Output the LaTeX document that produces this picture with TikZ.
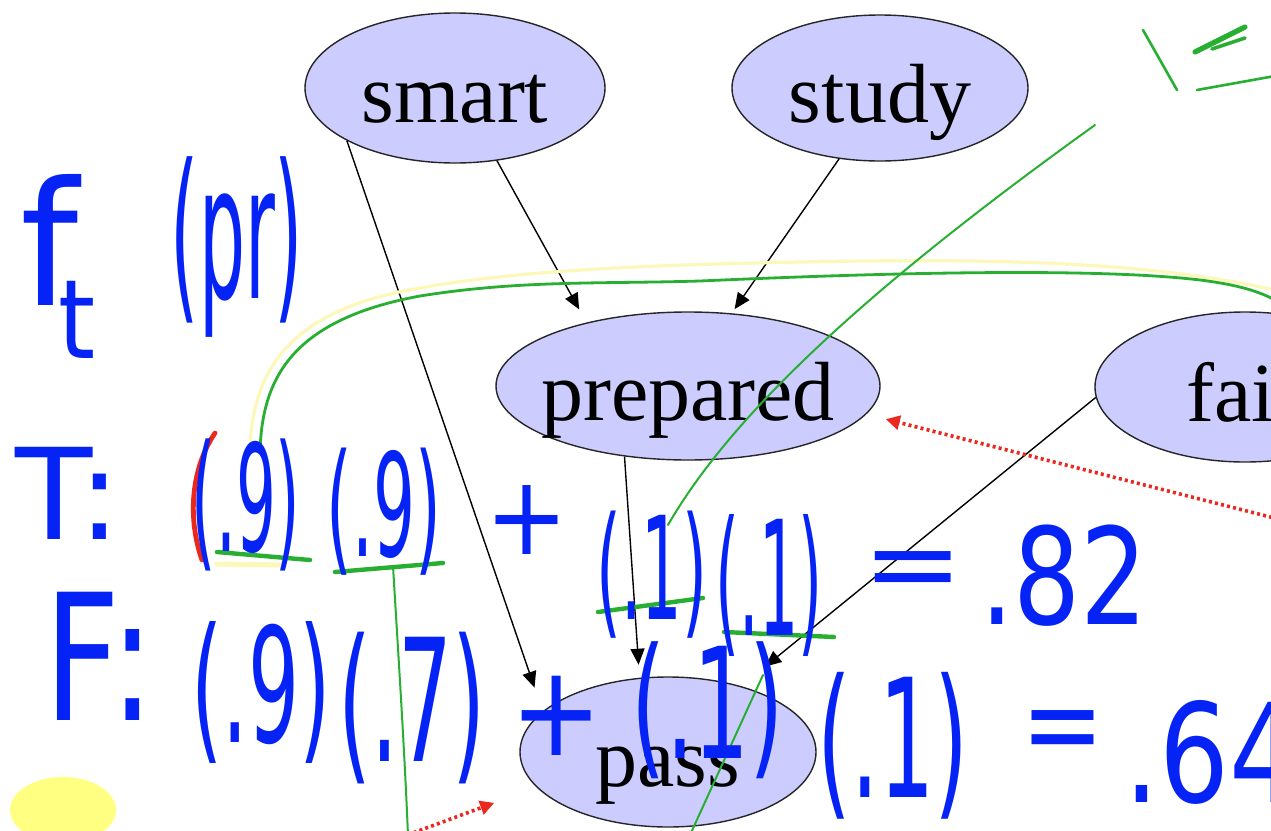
\documentclass[tikz,border=0pt]{standalone}
\usepackage{fontspec}
\setmainfont{Liberation Serif}
\newfontfamily\handf{DejaVu Sans}
\usetikzlibrary{shapes.geometric,arrows.meta}
\definecolor{nodefill}{RGB}{204,204,255}
\definecolor{inkblue}{RGB}{5,35,245}
\definecolor{inkgreen}{RGB}{40,175,50}
\definecolor{inkred}{RGB}{235,40,30}
\definecolor{inkyellow}{RGB}{252,248,185}
\definecolor{blobyellow}{RGB}{255,255,130}
\newcommand{\hwr}[4]{\scalebox{#1}[#2]{\fontsize{#3}{#3}\selectfont #4}}
\tikzset{
  bnode/.style={ellipse, draw=black!85, line width=0.7pt, fill=nodefill,
    inner xsep=-20pt, inner ysep=-5pt, text height=39pt, text depth=5pt,
    font=\fontsize{42}{42}\selectfont, text=black},
  bnarrow/.style={draw=black, line width=0.7pt, -{Triangle[length=8pt,width=7pt]}},
  reddot/.style={draw=inkred, line width=1.8pt, dash pattern=on 1.5pt off 1.6pt,
    -{Triangle[length=7pt,width=7pt]}},
  hw/.style={text=inkblue, font=\handf, inner sep=0pt, anchor=center},
  gstroke/.style={draw=inkgreen, line width=1.2pt, line cap=round},
  gunder/.style={draw=inkgreen, line width=2.2pt, line cap=round},
}
\begin{document}
\begin{tikzpicture}[x=0.5pt,y=-0.5pt]
\useasboundingbox (0,0) rectangle (1271,831);
\clip (0,0) rectangle (1271,831);
\fill[white] (0,0) rectangle (1271,831);

% Bayes net nodes
\node[bnode, minimum width=150pt, minimum height=75pt] (smart) at (455,88) {smart};
\node[bnode, minimum width=148pt, minimum height=73pt] (study) at (880,88) {study};
\node[bnode, minimum width=192pt, minimum height=74pt] (prepared) at (688,386) {prepared};
\node[bnode, minimum width=150pt, minimum height=75pt] (fair) at (1245,387) {fair};
\node[bnode, minimum width=148pt, minimum height=75pt] (pass) at (668,752) {pass};

% edges
\draw[bnarrow, shorten >=12.5pt] (smart.206) -- (pass.162);
\draw[bnarrow, shorten >=7.5pt] (smart.300) -- (prepared.148);
\draw[bnarrow, shorten >=2.5pt] (study.240) -- (prepared.59);
\draw[bnarrow, shorten >=6.5pt] (prepared.228) -- (pass.111);
\draw[bnarrow, shorten >=15.5pt] (fair.184) -- (pass.42);

% red dotted arrows
\coordinate (rA) at (1290,522);
\draw[reddot, shorten >=10pt] (rA) -- (prepared.351);
\coordinate (rB) at (402,837);
\draw[reddot, shorten >=22.5pt] (rB) -- (pass.195);

% yellow highlights
\fill[blobyellow] (63,810) ellipse [x radius=26.5pt, y radius=16.5pt];
\draw[inkyellow, line width=1.6pt, line cap=round]
  (250,450) .. controls (252,375) and (285,310) .. (420,288)
  .. controls (520,270) and (650,265) .. (800,262)
  .. controls (1000,258) and (1150,262) .. (1275,290);
\draw[inkyellow, line width=2.5pt, line cap=round] (217,564) -- (285,565);

% green strokes
\draw[gstroke, line width=1.4pt]
  (260,452) .. controls (262,380) and (290,320) .. (420,296)
  .. controls (520,280) and (600,284) .. (700,281)
  .. controls (900,272) and (1100,268) .. (1200,280)
  .. controls (1240,285) and (1260,292) .. (1275,300);
\draw[gstroke, line width=1pt] (1095,125) .. controls (900,265) and (740,400) .. (668,525);
\draw[gstroke, line width=1pt] (763,675) -- (690,835);
\draw[gstroke, line width=1pt] (393,566) .. controls (398,650) and (404,740) .. (408,835);
\draw[gunder] (217,552) -- (310,560);
\draw[gunder] (335,572) -- (443,563);
\draw[gunder] (598,612) -- (703,598);
\draw[gunder] (724,632) -- (834,637);
\draw[gstroke, line width=1.3pt] (1143,30) -- (1177,90);
\draw[gstroke, line width=2.6pt] (1195,52) -- (1245,27);
\draw[gstroke, line width=1.8pt] (1212,49) -- (1245,38);
\draw[gstroke, line width=1.3pt] (1197,90) -- (1275,76);

% red mark
\draw[inkred, line width=2.4pt, line cap=round] (215,433) .. controls (190,470) and (188,520) .. (202,560);

% handwriting
\node[hw] (ff) at (50,240) {\hwr{1.1}{1.15}{75}{f}};
\node[hw] (ft) at (77,320) {\hwr{0.86}{1.0}{55}{t}};
\node[hw] (fpr) at (237,247) {\hwr{0.66}{1.7}{55}{(pr)}};

\node[hw] (tT) at (68,493) {\hwr{1.15}{1.15}{55}{T:}};
\node[hw] (t1) at (246,505) {\hwr{0.57}{1.35}{55}{(.9)}};
\node[hw] (t2) at (384,512) {\hwr{0.6}{1.3}{55}{(.9)}};
\node[hw] (t3) at (527,520) {\hwr{0.9}{1.0}{55}{+}};
\node[hw] (t4) at (652,575) {\hwr{0.58}{1.3}{55}{(.1)}};
\node[hw] (t5) at (769,585) {\hwr{0.56}{1.45}{55}{(.1)}};
\node[hw] (t6) at (913,577) {\hwr{1.1}{1.0}{55}{=}};
\node[hw] (t7) at (1064,576) {\hwr{0.96}{1.22}{55}{.82}};

\node[hw] (fF) at (100,656) {\hwr{1.2}{1.6}{55}{F:}};
\node[hw] (f1) at (261,692) {\hwr{0.73}{1.45}{55}{(.9)}};
\node[hw] (f2) at (412,708) {\hwr{0.77}{1.55}{55}{(.7)}};
\node[hw] (f3) at (557,716) {\hwr{1.0}{1.15}{55}{+}};
\node[hw] (f4) at (708,710) {\hwr{0.8}{1.4}{55}{(.1)}};
\node[hw] (f5) at (893,746) {\hwr{0.79}{1.5}{55}{(.1)}};
\node[hw] (f6) at (1063,738) {\hwr{0.9}{1.1}{55}{=}};
\node[hw] (f7) at (1212,752) {\hwr{1.0}{1.25}{55}{.64}};
\end{tikzpicture}
\end{document}
